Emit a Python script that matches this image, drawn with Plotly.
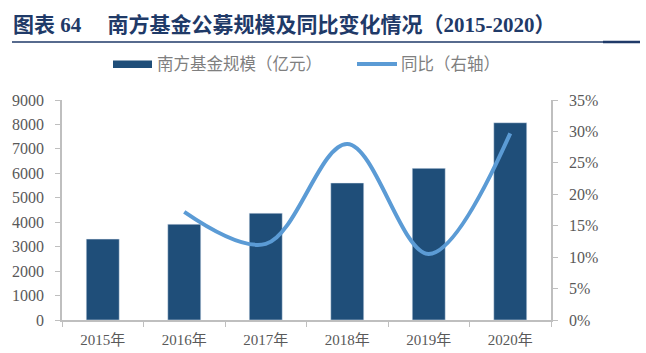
import plotly.graph_objects as go

# ---- data ----
years = ["2015年", "2016年", "2017年", "2018年", "2019年", "2020年"]
scale = [3310, 3920, 4370, 5605, 6205, 8070]          # 南方基金规模（亿元）
yoy_years = ["2016年", "2017年", "2018年", "2019年", "2020年"]
yoy = [0.172, 0.121, 0.280, 0.105, 0.297]             # 同比（右轴）
left_ticks = list(range(0, 9001, 1000))
right_ticks = [0, 0.05, 0.10, 0.15, 0.20, 0.25, 0.30, 0.35]

title_text = "图表 64　 南方基金公募规模及同比变化情况（2015-2020）"
legend_bar = "南方基金规模（亿元）"
legend_line = "同比（右轴）"

BAR = "#1F4E79"
LINE = "#5B9BD5"
AXIS = "#BFBFBF"
TXT = "#595959"
TITLE_C = "#1F3A68"
FONT = "Liberation Serif, Noto Sans CJK SC, serif"

W, H = 646, 353
L, R, T, B = 62, 95, 100, 33
PW, PH = W - L - R, H - T - B


def px(x):
    return (x - L) / PW


def py(y):
    return (H - B - y) / PH


fig = go.Figure()
fig.add_trace(go.Bar(x=years, y=scale, marker_color=BAR, width=0.405,
                     name=legend_bar, showlegend=False))
fig.add_trace(go.Scatter(x=yoy_years, y=yoy, yaxis="y2", mode="lines",
                         line=dict(color=LINE, width=4, shape="spline", smoothing=1.0),
                         name=legend_line, showlegend=False))

shapes = [
    # rule under title
    dict(type="line", xref="paper", yref="paper", x0=px(12), x1=px(640), y0=py(42), y1=py(42),
         line=dict(color=TITLE_C, width=1.5)),
    dict(type="line", xref="paper", yref="paper", x0=px(603), x1=px(640), y0=py(42), y1=py(42),
         line=dict(color=TITLE_C, width=2.5)),
    # legend swatches
    dict(type="rect", xref="paper", yref="paper", x0=px(113), x1=px(152), y0=py(60.5), y1=py(68),
         fillcolor=BAR, line=dict(width=0)),
    dict(type="line", xref="paper", yref="paper", x0=px(357), x1=px(397), y0=py(64), y1=py(64),
         line=dict(color=LINE, width=4)),
]

annotations = [
    dict(text="<b>" + title_text + "</b>", xref="paper", yref="paper", x=px(11), y=py(25),
         xanchor="left", yanchor="middle", showarrow=False,
         font=dict(family=FONT, size=21, color=TITLE_C)),
    dict(text=legend_bar, xref="paper", yref="paper", x=px(155), y=py(64),
         xanchor="left", yanchor="middle", showarrow=False,
         font=dict(family=FONT, size=16.5, color="#7F7F7F")),
    dict(text=legend_line, xref="paper", yref="paper", x=px(399), y=py(64),
         xanchor="left", yanchor="middle", showarrow=False,
         font=dict(family=FONT, size=16.5, color="#7F7F7F")),
]

fig.update_layout(
    width=W, height=H,
    margin=dict(l=L, r=R, t=T, b=B, autoexpand=False),
    paper_bgcolor="white", plot_bgcolor="white",
    showlegend=False,
    shapes=shapes, annotations=annotations,
    xaxis=dict(type="category", categoryorder="array", categoryarray=years,
               showline=True, linecolor=AXIS, linewidth=1.5, automargin=False,
               ticks="outside", tickson="boundaries", ticklen=5, tickcolor=AXIS,
               ticklabelstandoff=5,
               showgrid=False, tickfont=dict(family=FONT, size=15, color=TXT)),
    yaxis=dict(range=[0, 9000], tickvals=left_ticks, showline=True, linecolor=AXIS, linewidth=1.5,
               ticks="outside", ticklen=5, tickcolor=AXIS, showgrid=False, zeroline=False,
               ticklabelstandoff=8, automargin=False,
               tickfont=dict(family=FONT, size=16, color=TXT)),
    yaxis2=dict(range=[0, 0.35], tickvals=right_ticks, tickformat=".0%", overlaying="y",
                side="right", showline=True, linecolor=AXIS, linewidth=1.5,
                ticks="outside", ticklen=5, tickcolor=AXIS, showgrid=False, zeroline=False,
                ticklabelstandoff=8, automargin=False,
                tickfont=dict(family=FONT, size=16, color=TXT)),
)

fig.write_html("out.html")
